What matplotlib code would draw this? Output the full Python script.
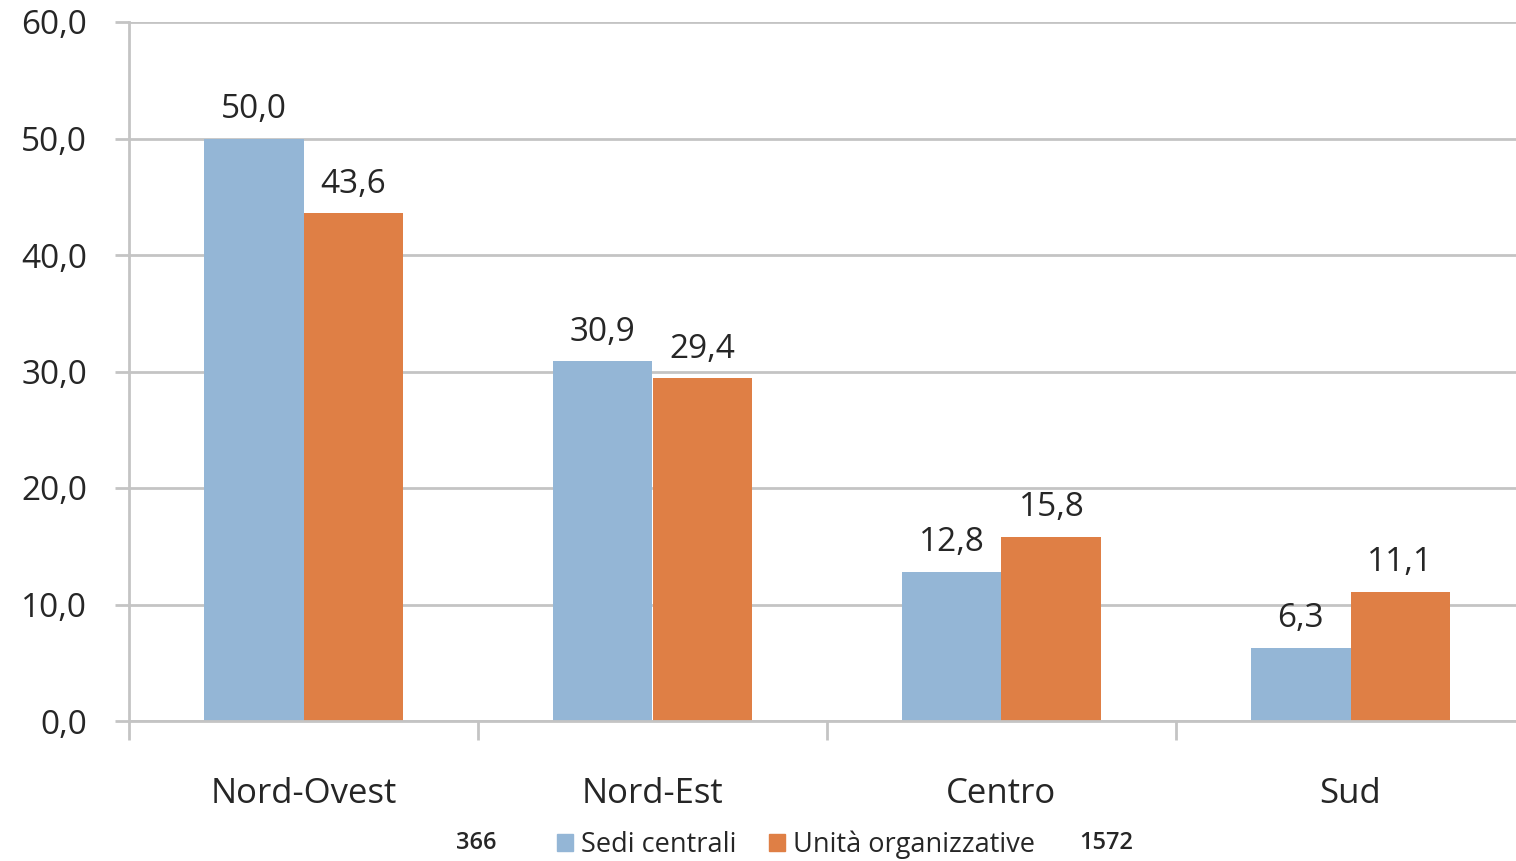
import matplotlib.pyplot as plt
import numpy as np
from matplotlib.patches import Patch

# Data
regioni = ["Nord-Ovest", "Nord-Est", "Centro", "Sud"]
sedi_centrali = [50.0, 30.9, 12.8, 6.3]
unita_org = [43.6, 29.4, 15.8, 11.1]
n_sedi = "366"
n_unita = "1572"

col_blue = "#94b6d6"
col_orange = "#df7f45"
grid_col = "#c4c4c4"
txt_col = "#262626"

plt.rcParams["font.family"] = ["Open Sans", "DejaVu Sans"]

fig = plt.figure(figsize=(15.16, 8.61), dpi=100)
ax = fig.add_axes([129 / 1516, 1 - 721 / 861, 1396 / 1516, 699 / 861])

x = np.arange(len(regioni))
w = 0.286
b1 = ax.bar(x - w / 2, sedi_centrali, w, color=col_blue)
b2 = ax.bar(x + w / 2, unita_org, w, color=col_orange)

for bars in (b1, b2):
    for r in bars:
        v = r.get_height()
        ax.annotate(f"{v:.1f}".replace(".", ","),
                    (r.get_x() + r.get_width() / 2, v),
                    xytext=(0, 9), textcoords="offset points",
                    ha="center", va="bottom", fontsize=24, color=txt_col)

ax.set_xlim(-0.5, 3.5)
ax.set_ylim(0, 60)
yt = np.arange(0, 61, 10)
ax.set_yticks(yt)
ax.set_yticklabels([f"{v:.1f}".replace(".", ",") for v in yt],
                   fontsize=24, color=txt_col)
ax.yaxis.grid(True, color=grid_col, linewidth=2)
ax.set_axisbelow(True)
ax.tick_params(axis="y", length=10, width=2, color=grid_col, pad=20)

# category labels between the boundary ticks
ax.set_xticks(np.arange(-0.5, 4.0, 1.0))
ax.set_xticklabels([])
ax.set_xticks(x, minor=True)
ax.set_xticklabels(regioni, minor=True, fontsize=25, color=txt_col)
ax.tick_params(axis="x", which="major", length=14, width=2, color=grid_col)
ax.tick_params(axis="x", which="minor", length=0, pad=40)

for s in ["top", "right"]:
    ax.spines[s].set_visible(False)
ax.spines["left"].set_color(grid_col)
ax.spines["left"].set_linewidth(2)
ax.spines["bottom"].set_color(grid_col)
ax.spines["bottom"].set_linewidth(2)

handles = [Patch(color=col_blue, label="Sedi centrali"),
           Patch(color=col_orange, label="Unità organizzative")]
fig.legend(handles=handles, loc="center", bbox_to_anchor=(796 / 1516, 1 - 845 / 861),
           ncol=2, frameon=False, fontsize=19.5, handlelength=0.6, handleheight=0.6,
           handletextpad=0.3, columnspacing=1.2, labelcolor=txt_col)
fig.text(476 / 1516, 1 - 843 / 861, n_sedi, ha="center", va="center",
         fontsize=17, color=txt_col, fontweight="semibold")
fig.text(1106 / 1516, 1 - 843 / 861, n_unita, ha="center", va="center",
         fontsize=17, color=txt_col, fontweight="semibold")

fig.savefig("out.png", dpi=100)
